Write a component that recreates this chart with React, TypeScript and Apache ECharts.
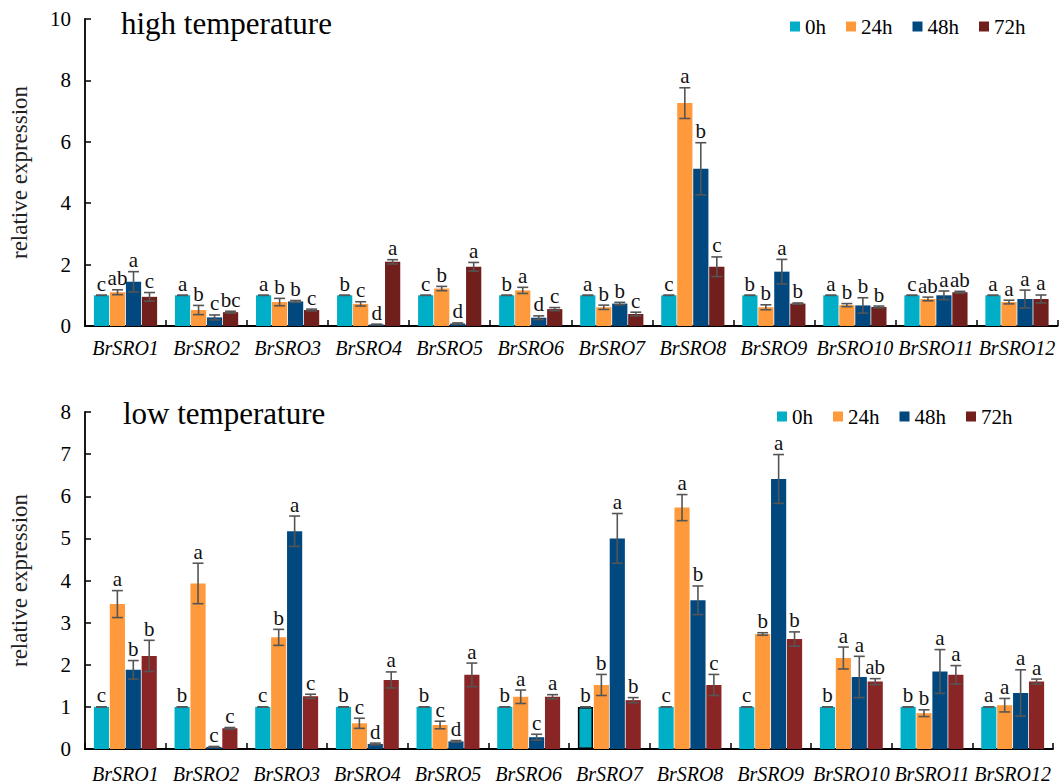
import React, { useEffect, useRef } from "react";
import * as echarts from "echarts";

const categories = ["BrSRO1", "BrSRO2", "BrSRO3", "BrSRO4", "BrSRO5", "BrSRO6", "BrSRO7", "BrSRO8", "BrSRO9", "BrSRO10", "BrSRO11", "BrSRO12"];
const timePoints = ["0h", "24h", "48h", "72h"];
const highTicks = { min: 0, max: 10, interval: 2 };
const lowTicks = { min: 0, max: 8, interval: 1 };

// high temperature
const high0h = [1, 1, 1, 1, 1, 1, 1, 1, 1, 1, 1, 1];
const high24h = [1.10, 0.52, 0.78, 0.72, 1.22, 1.16, 0.61, 7.26, 0.61, 0.68, 0.88, 0.78];
const high48h = [1.44, 0.28, 0.80, 0.05, 0.08, 0.27, 0.73, 5.12, 1.77, 0.67, 1.00, 0.88];
const high72h = [0.95, 0.45, 0.52, 2.09, 1.93, 0.55, 0.39, 1.93, 0.73, 0.62, 1.10, 0.88];
const high0hErr = [0, 0, 0, 0, 0, 0, 0, 0, 0, 0, 0, 0];
const high24hErr = [0.08, 0.15, 0.12, 0.07, 0.07, 0.10, 0.07, 0.50, 0.08, 0.05, 0.06, 0.06];
const high48hErr = [0.33, 0.08, 0.03, 0.01, 0.02, 0.06, 0.04, 0.85, 0.40, 0.25, 0.14, 0.29];
const high72hErr = [0.14, 0.03, 0.03, 0.07, 0.14, 0.05, 0.06, 0.32, 0.02, 0.03, 0.03, 0.13];
const high0hSig = ["c", "a", "a", "b", "c", "b", "a", "c", "b", "a", "c", "a"];
const high24hSig = ["ab", "b", "b", "c", "b", "a", "b", "a", "b", "b", "ab", "a"];
const high48hSig = ["a", "c", "b", "d", "d", "d", "b", "b", "a", "b", "a", "a"];
const high72hSig = ["c", "bc", "c", "a", "a", "c", "c", "c", "b", "b", "ab", "a"];

// low temperature
const low0h = [1, 1, 1, 1, 1, 1, 1, 1, 1, 1, 1, 1];
const low24h = [3.44, 3.93, 2.65, 0.61, 0.57, 1.24, 1.52, 5.73, 2.73, 2.16, 0.85, 1.04];
const low48h = [1.88, 0.05, 5.17, 0.12, 0.18, 0.28, 5.00, 3.53, 6.41, 1.71, 1.84, 1.33];
const low72h = [2.21, 0.49, 1.25, 1.64, 1.76, 1.24, 1.16, 1.52, 2.61, 1.60, 1.76, 1.60];
const low0hErr = [0, 0, 0, 0, 0, 0, 0, 0, 0, 0, 0, 0];
const low24hErr = [0.32, 0.48, 0.19, 0.12, 0.09, 0.16, 0.25, 0.31, 0.03, 0.26, 0.08, 0.16];
const low48hErr = [0.22, 0.01, 0.36, 0.02, 0.02, 0.07, 0.59, 0.34, 0.58, 0.49, 0.52, 0.55];
const low72hErr = [0.37, 0.02, 0.05, 0.19, 0.28, 0.05, 0.06, 0.25, 0.17, 0.07, 0.22, 0.06];
const low0hSig = ["c", "b", "c", "b", "b", "b", "b", "c", "c", "b", "b", "a"];
const low24hSig = ["a", "a", "b", "c", "c", "a", "b", "a", "b", "a", "b", "a"];
const low48hSig = ["b", "c", "a", "d", "d", "c", "a", "b", "a", "a", "a", "a"];
const low72hSig = ["b", "c", "c", "a", "a", "a", "b", "c", "b", "ab", "a", "a"];

const colorsHigh = ["#00AEC7", "#FF9A3C", "#01487F", "#701F1C"];
const colorsLow = ["#00AEC7", "#FF9A3C", "#01487F", "#8A2525"];

const SERIF = "'Liberation Serif', 'Times New Roman', serif";
const CAT_GAP = 0.22;
const BAR_GAP = 0.05;

function barSeries(axis: number, name: string, values: number[], color: string, special?: number) {
  return {
    type: "bar",
    name,
    xAxisIndex: axis,
    yAxisIndex: axis,
    barGap: BAR_GAP * 100 + "%",
    barCategoryGap: CAT_GAP * 100 + "%",
    itemStyle: { color },
    data: values.map((v, i) =>
      special === i ? { value: v, itemStyle: { borderColor: "#000", borderWidth: 1.5 } } : v
    ),
  };
}

function errSeries(axis: number, k: number, values: number[], errs: number[], sigs: string[]) {
  return {
    type: "custom",
    xAxisIndex: axis,
    yAxisIndex: axis,
    silent: true,
    z: 10,
    clip: false,
    data: values.map((v, i) => [i, v]),
    encode: { x: 0, y: 1 },
    renderItem: (params: any, api: any) => {
      const i = api.value(0);
      const v = api.value(1);
      const e = errs[params.dataIndex];
      const band = api.size([1, 0])[0];
      const total = band * (1 - CAT_GAP);
      const w = total / (4 + 3 * BAR_GAP);
      const c = api.coord([i, v]);
      const x = c[0] - total / 2 + k * w * (1 + BAR_GAP) + w / 2;
      const yTop = api.coord([i, v + e])[1];
      const yBot = api.coord([i, Math.max(v - e, 0)])[1];
      const cap = w * 0.36;
      const st = { stroke: "#555", lineWidth: 1.6 };
      return {
        type: "group",
        children: [
          { type: "line", shape: { x1: x, y1: yTop, x2: x, y2: yBot }, style: st },
          { type: "line", shape: { x1: x - cap, y1: yTop, x2: x + cap, y2: yTop }, style: st },
          { type: "line", shape: { x1: x - cap, y1: yBot, x2: x + cap, y2: yBot }, style: st },
          {
            type: "text",
            style: {
              text: sigs[params.dataIndex],
              x,
              y: yTop - 1,
              align: "center",
              verticalAlign: "bottom",
              fontSize: 21,
              fontFamily: SERIF,
              fill: "#111",
            },
          },
        ],
      };
    },
  };
}

function xAxisCfg(gridIndex: number, margin: number) {
  return {
    type: "category",
    gridIndex,
    data: categories,
    boundaryGap: true,
    axisLine: { show: true, lineStyle: { color: "#000", width: 1.8 } },
    axisTick: { show: true, inside: true, length: 6, alignWithLabel: false, lineStyle: { color: "#000", width: 1.5 } },
    axisLabel: {
      interval: 0,
      margin,
      fontSize: 20,
      fontStyle: "italic",
      fontFamily: SERIF,
      color: "#000",
    },
    splitLine: { show: false },
  };
}

function yAxisCfg(gridIndex: number, ticks: { min: number; max: number; interval: number }) {
  return {
    type: "value",
    gridIndex,
    min: ticks.min,
    max: ticks.max,
    interval: ticks.interval,
    name: "relative expression",
    nameLocation: "middle",
    nameGap: 54,
    nameTextStyle: { fontSize: 23, fontFamily: SERIF, color: "#222" },
    axisLine: { show: true, lineStyle: { color: "#000", width: 1.8 } },
    axisTick: { show: true, inside: true, length: 6, lineStyle: { color: "#000", width: 1.5 } },
    axisLabel: { fontSize: 21, fontFamily: SERIF, color: "#000", margin: 14 },
    splitLine: { show: false },
  };
}

function legendCfg(left: number, top: number) {
  return {
    left,
    top,
    padding: 0,
    data: timePoints,
    icon: "rect",
    itemWidth: 10,
    itemHeight: 10,
    itemGap: 20,
    selectedMode: false,
    textStyle: { fontSize: 21, fontFamily: SERIF, color: "#000" },
  };
}

export default function App() {
  const ref = useRef<HTMLDivElement>(null);
  useEffect(() => {
    if (!ref.current) return;
    const chart = echarts.init(ref.current, undefined, { renderer: "svg" });
    const highVals = [high0h, high24h, high48h, high72h];
    const highErrs = [high0hErr, high24hErr, high48hErr, high72hErr];
    const highSigs = [high0hSig, high24hSig, high48hSig, high72hSig];
    const lowVals = [low0h, low24h, low48h, low72h];
    const lowErrs = [low0hErr, low24hErr, low48hErr, low72hErr];
    const lowSigs = [low0hSig, low24hSig, low48hSig, low72hSig];
    const series: any[] = [];
    timePoints.forEach((t, k) => series.push(barSeries(0, t, highVals[k], colorsHigh[k])));
    timePoints.forEach((t, k) => series.push(barSeries(1, t, lowVals[k], colorsLow[k], k === 0 ? 6 : undefined)));
    timePoints.forEach((t, k) => series.push(errSeries(0, k, highVals[k], highErrs[k], highSigs[k])));
    timePoints.forEach((t, k) => series.push(errSeries(1, k, lowVals[k], lowErrs[k], lowSigs[k])));
    chart.setOption({
      animation: false,
      backgroundColor: "#fff",
      title: [
        { text: "high temperature", left: 121, top: 8, padding: 0, textStyle: { fontSize: 31, fontWeight: "normal", fontFamily: SERIF, color: "#000" } },
        { text: "low temperature", left: 123, top: 398, padding: 0, textStyle: { fontSize: 31, fontWeight: "normal", fontFamily: SERIF, color: "#000" } },
      ],
      legend: [legendCfg(790, 16), legendCfg(777, 406)],
      grid: [
        { left: 83, top: 19, height: 307, right: 1.5 },
        { left: 81, top: 412, height: 338, right: 6 },
      ],
      xAxis: [xAxisCfg(0, 12), xAxisCfg(1, 15)],
      yAxis: [yAxisCfg(0, highTicks), yAxisCfg(1, lowTicks)],
      series,
    });
    return () => chart.dispose();
  }, []);
  return <div ref={ref} style={{ position: "absolute", left: 0, top: 0, width: 1059, height: 784 }} />;
}
